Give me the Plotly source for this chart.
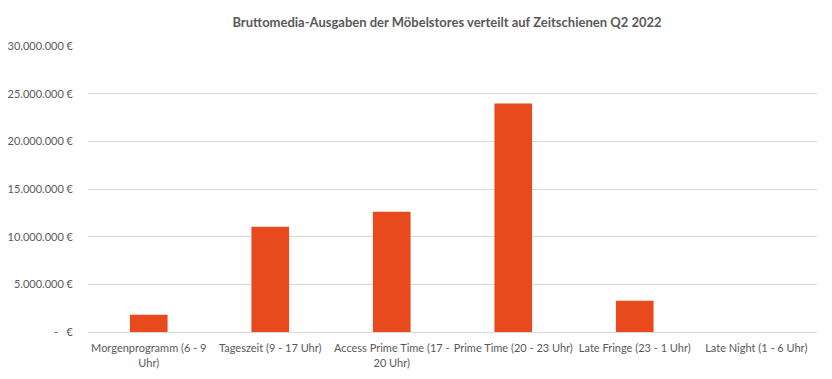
import plotly.graph_objects as go

categories = [
    "Morgenprogramm (6 - 9<br>Uhr)",
    "Tageszeit (9 - 17 Uhr)",
    "Access Prime Time (17 -<br>20 Uhr)",
    "Prime Time (20 - 23 Uhr)",
    "Late Fringe (23 - 1 Uhr)",
    "Late Night (1 - 6 Uhr)",
]
values = [1820000, 11050000, 12620000, 23960000, 3280000, 0]
tick_vals = [0, 5000000, 10000000, 15000000, 20000000, 25000000, 30000000]
tick_text = ["-   €", "5.000.000 €", "10.000.000 €", "15.000.000 €",
             "20.000.000 €", "25.000.000 €", "30.000.000 €"]

font_family = "Lato, 'Open Sans', sans-serif"
grey = "#595959"

fig = go.Figure(go.Bar(x=categories, y=values, marker_color="#E8491D",
                       marker_line_width=0))
fig.update_layout(
    width=824, height=371,
    margin=dict(l=80, r=15, t=38, b=47),
    paper_bgcolor="white", plot_bgcolor="white",
    bargap=0.69,
    showlegend=False,
    title=dict(text="<b>Bruttomedia-Ausgaben der Möbelstores verteilt auf Zeitschienen Q2 2022</b>",
               x=439/824, xanchor="center", y=1 - 14/371, yanchor="middle",
               font=dict(family=font_family, size=13, color=grey)),
    font=dict(family=font_family, size=11, color=grey),
)
fig.update_yaxes(range=[0, 30000000], tickvals=tick_vals, ticktext=tick_text,
                 showgrid=True, gridcolor="#d9d9d9", gridwidth=1,
                 zeroline=False, showline=False, ticks="", ticklen=0,
                 ticklabelstandoff=14, automargin=False,
                 tickfont=dict(size=11, color=grey))
fig.update_xaxes(showline=True, linecolor="#d9d9d9", linewidth=1, ticks="",
                 ticklabelstandoff=6, automargin=False,
                 tickfont=dict(size=11, color=grey), tickangle=0)

fig.write_html("out.html")
